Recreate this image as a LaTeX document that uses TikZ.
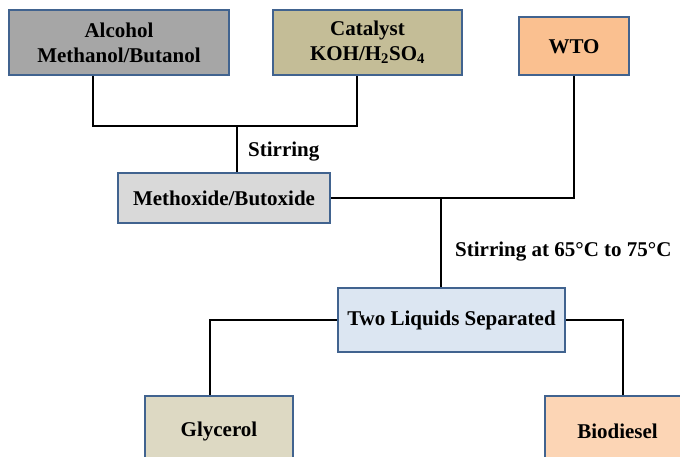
\documentclass[tikz,border=0pt]{standalone}
\usepackage{fontspec}
\setmainfont{Liberation Serif}
\definecolor{bordc}{HTML}{41638F}
\definecolor{cAlc}{HTML}{A6A6A6}
\definecolor{cCat}{HTML}{C4BD97}
\definecolor{cWto}{HTML}{FAC090}
\definecolor{cMeth}{HTML}{D9D9D9}
\definecolor{cTwo}{HTML}{DCE6F2}
\definecolor{cGly}{HTML}{DDD9C3}
\definecolor{cBio}{HTML}{FCD5B5}
\tikzset{
  box/.style={draw=bordc, line width=2pt, inner sep=0pt, align=center,
    font=\fontsize{21}{25}\selectfont\bfseries},
  lbl/.style={inner sep=0pt, anchor=west, font=\fontsize{21}{25}\selectfont\bfseries},
  conn/.style={draw=black, line width=2.3pt}
}
\begin{document}
\begin{tikzpicture}[x=1pt,y=-1pt]
\useasboundingbox (0,0) rectangle (680,457);
\clip (0,0) rectangle (680,457);
\node[box, fill=cAlc, minimum width=220pt, minimum height=65pt] (alc) at (119,42.5) {Alcohol\\Methanol/Butanol};
\node[box, fill=cCat, minimum width=189pt, minimum height=65pt] (cat) at (367.5,42.5) {Catalyst\\KOH/H\textsubscript{2}SO\textsubscript{4}};
\node[box, fill=cWto, minimum width=110pt, minimum height=58pt] (wto) at (574,46.5) {WTO};
\node[box, fill=cMeth, minimum width=212pt, minimum height=50pt] (meth) at (224,198) {Methoxide/Butoxide};
\node[box, fill=cTwo, minimum width=227pt, minimum height=64pt] (two) at (451.5,320) {Two Liquids Separated};
\node[box, fill=cGly, minimum width=148pt, minimum height=70pt] (gly) at (219,431) {Glycerol};
\node[box, fill=cBio, minimum width=145pt, minimum height=70pt] (bio) at (617.5,431) {Biodiesel};
\node[lbl] (s1) at (248,152) {Stirring};
\node[lbl] (s2) at (455,252) {Stirring at 65°C to 75°C};
\coordinate (j1) at (237,126);
\coordinate (j2) at (441,198);
\draw[conn] ([xshift=-26pt]alc.south) |- (j1) -| ([xshift=-10.5pt]cat.south);
\draw[conn] (j1) -- (j1 |- meth.north);
\draw[conn] (meth.east) -| (wto.south);
\draw[conn] (j2) -- (j2 |- two.north);
\draw[conn] (two.west) -| ([xshift=-9pt]gly.north);
\draw[conn] (two.east) -| ([xshift=5.5pt]bio.north);
\end{tikzpicture}
\end{document}
